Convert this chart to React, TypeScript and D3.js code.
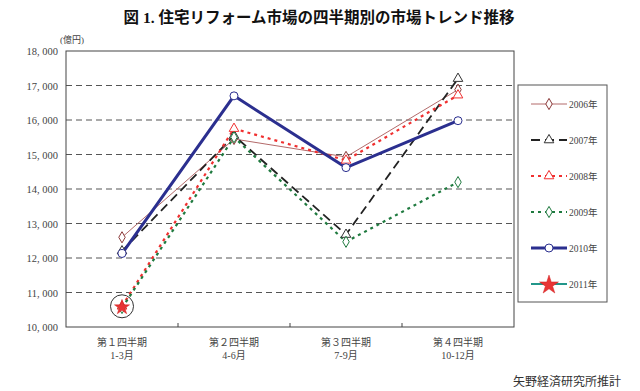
import React from "react";
import * as d3 from "d3";

const categories = ["Q1", "Q2", "Q3", "Q4"];
const catLine1 = ["第１四半期", "第２四半期", "第３四半期", "第４四半期"];
const catLine2 = ["1-3月", "4-6月", "7-9月", "10-12月"];
const yTicks = [10000, 11000, 12000, 13000, 14000, 15000, 16000, 17000, 18000];

const s2006 = [12600, 15450, 14930, 16880];
const s2007 = [12200, 15550, 12680, 17200];
const s2008 = [10600, 15750, 14830, 16720];
const s2009 = [10550, 15500, 12470, 14200];
const s2010 = [12130, 16700, 14620, 15980];
const s2011 = [10600];

type Series = {
  name: string;
  values: number[];
  color: string;
  markerStroke: string;
  width: number;
  dash: string;
  marker: "diamond" | "triangle" | "circle" | "star";
};

const series: Series[] = [
  { name: "2006年", values: s2006, color: "#b36a6a", markerStroke: "#8b3a3a", width: 1, dash: "", marker: "diamond" },
  { name: "2007年", values: s2007, color: "#222", markerStroke: "#333", width: 1.8, dash: "9,5", marker: "triangle" },
  { name: "2008年", values: s2008, color: "#f03030", markerStroke: "#f03030", width: 2.2, dash: "3,4", marker: "triangle" },
  { name: "2009年", values: s2009, color: "#1f7a3f", markerStroke: "#1f7a3f", width: 2.2, dash: "3,4", marker: "diamond" },
  { name: "2010年", values: s2010, color: "#2b2f8f", markerStroke: "#2b2f8f", width: 3, dash: "", marker: "circle" },
  { name: "2011年", values: s2011, color: "#22968a", markerStroke: "#e23030", width: 2, dash: "", marker: "star" },
];

const W = 640, H = 391;
const L = 66, R = 514, T = 51, B = 327;
const serif = "'Liberation Serif', 'DejaVu Serif', 'Noto Sans CJK JP', serif";
const jp = "'Liberation Serif', 'Noto Sans CJK JP', serif";

function Marker({ s, x, y, starSize = 70 }: { s: Series; x: number; y: number; starSize?: number }) {
  if (s.marker === "circle") {
    return <circle cx={x} cy={y} r={4} fill="white" stroke={s.markerStroke} strokeWidth={1} />;
  }
  if (s.marker === "diamond") {
    const p = d3.symbol(d3.symbolDiamond, 36)()!;
    return <path d={p} transform={`translate(${x},${y})`} fill="white" stroke={s.markerStroke} strokeWidth={1} />;
  }
  if (s.marker === "triangle") {
    const p = d3.symbol(d3.symbolTriangle, 40)()!;
    return <path d={p} transform={`translate(${x},${y})`} fill="white" stroke={s.markerStroke} strokeWidth={1} />;
  }
  const p = d3.symbol(d3.symbolStar, starSize)()!;
  return <path d={p} transform={`translate(${x},${y + 1})`} fill="#e83535" stroke="#d02020" strokeWidth={0.5} />;
}

export default function App() {
  const x = d3.scaleBand<string>().domain(categories).range([L, R]).padding(0);
  const y = d3.scaleLinear().domain([10000, 18000]).range([B, T]);
  const cx = (i: number) => (x(categories[i]) as number) + x.bandwidth() / 2;
  const line = d3.line<number>().x((_, i) => cx(i)).y((v) => y(v));

  const legX = 518, legY = 85, legW = 89, legH = 217;
  const legRow = (i: number) => 104 + i * 36;

  return (
    <svg width={W} height={H} style={{ position: "absolute", left: 0, top: 0, background: "white" }}>
      <rect width={W} height={H} fill="white" />
      <text x={319} y={23} textAnchor="middle" fontFamily={jp} fontWeight="bold" fontSize={15.5} fill="#111">
        図 1. 住宅リフォーム市場の四半期別の市場トレンド推移
      </text>
      <text x={72} y={43} textAnchor="middle" fontFamily={jp} fontSize={9} fill="#444">(億円)</text>

      {yTicks.slice(1, -1).map((t) => (
        <line key={t} x1={L} x2={R} y1={y(t)} y2={y(t)} stroke="#555" strokeWidth={1} strokeDasharray="6,4" />
      ))}
      {yTicks.map((t) => (
        <text key={t} x={58} y={y(t) + 4} textAnchor="end" fontFamily={serif} fontSize={10.5} fill="#444">
          {d3.format(",")(t).replace(",", ", ")}
        </text>
      ))}
      <rect x={L} y={T} width={R - L} height={B - T} fill="none" stroke="#444" strokeWidth={1} />
      {categories.slice(1).map((c) => (
        <line key={c} x1={x(c)} x2={x(c)} y1={B} y2={B - 4} stroke="#444" strokeWidth={1} />
      ))}
      {categories.map((c, i) => (
        <g key={c}>
          <text x={cx(i)} y={346} textAnchor="middle" fontFamily={jp} fontSize={10} fill="#444">{catLine1[i]}</text>
          <text x={cx(i)} y={359} textAnchor="middle" fontFamily={jp} fontSize={10} fill="#444">{catLine2[i]}</text>
        </g>
      ))}

      {series.map((s) => (
        <g key={s.name}>
          {s.values.length > 1 && (
            <path d={line(s.values)!} fill="none" stroke={s.color} strokeWidth={s.width} strokeDasharray={s.dash} />
          )}
        </g>
      ))}
      {series.map((s) => (
        <g key={s.name + "m"}>
          {s.values.map((v, i) => (
            <Marker key={i} s={s} x={cx(i)} y={y(v)} />
          ))}
        </g>
      ))}
      <circle cx={cx(0)} cy={y(s2011[0])} r={11.5} fill="none" stroke="#333" strokeWidth={1} />

      <rect x={legX} y={legY} width={legW} height={legH} fill="white" stroke="#555" strokeWidth={1} />
      {series.map((s, i) => (
        <g key={s.name + "l"}>
          <line x1={531} x2={567} y1={legRow(i)} y2={legRow(i)} stroke={s.color} strokeWidth={s.width} strokeDasharray={s.dash} />
          <Marker s={s} x={549} y={legRow(i)} starSize={110} />
          <text x={569} y={legRow(i) + 3.5} fontFamily={jp} fontSize={9.5} fill="#444">{s.name}</text>
        </g>
      ))}

      <text x={513} y={386} fontFamily={jp} fontSize={12} fill="#333">矢野経済研究所推計</text>
    </svg>
  );
}
